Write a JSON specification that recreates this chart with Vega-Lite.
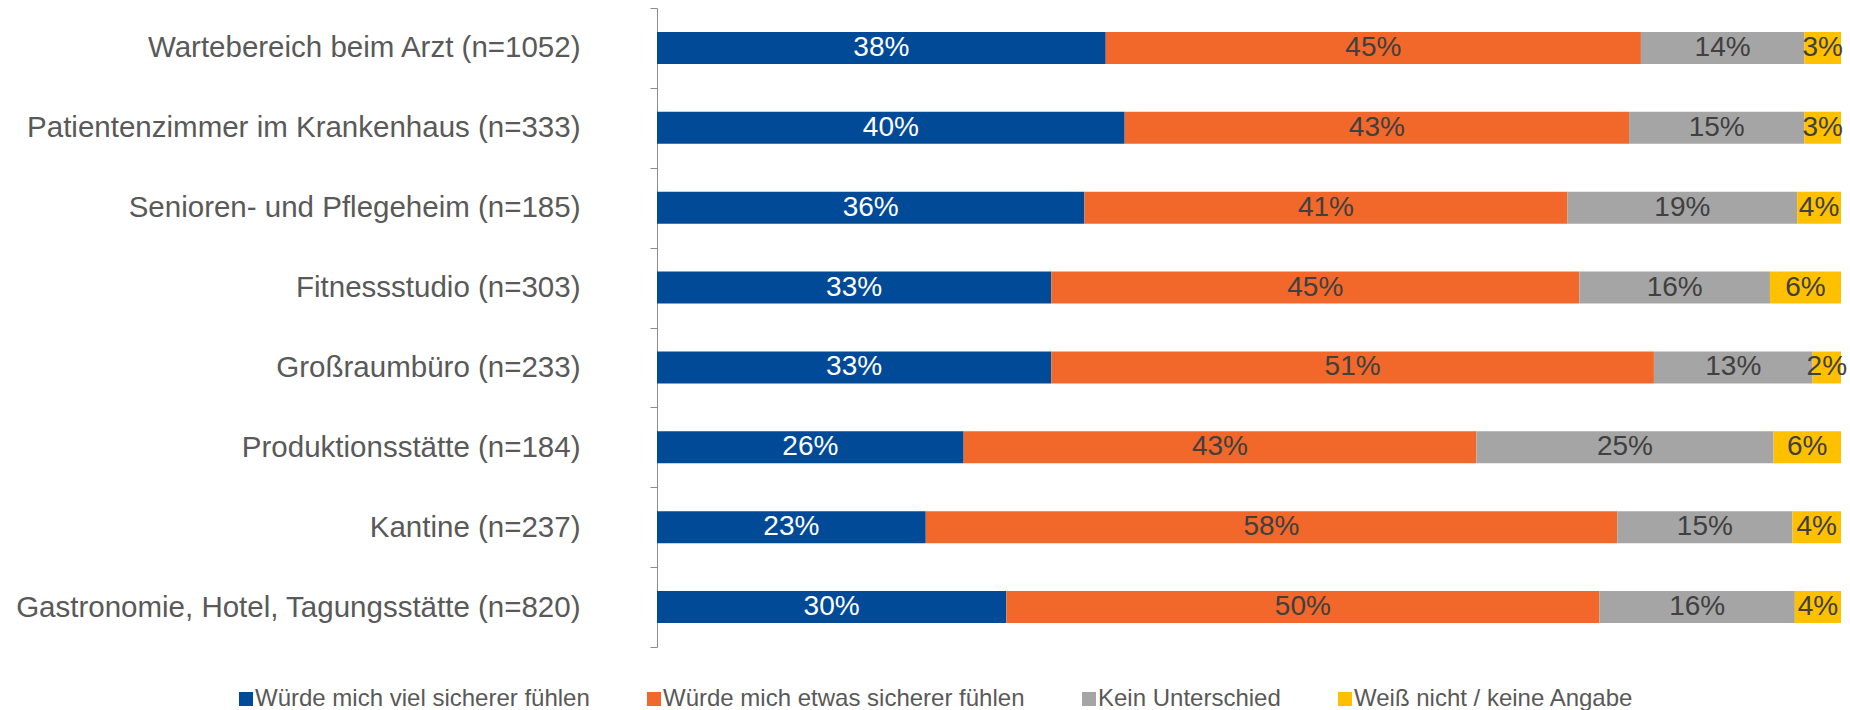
{
  "$schema": "https://vega.github.io/schema/vega-lite/v6.json",
  "autosize": {"type": "none"},
  "width": 1184,
  "height": 639,
  "padding": {"left": 657, "top": 8, "right": 9, "bottom": 63},
  "background": "white",
  "config": {
    "view": {"stroke": null},
    "font": "Liberation Sans",
    "legend": {
      "orient": "none",
      "legendX": -423,
      "legendY": 679,
      "direction": "horizontal",
      "symbolType": "square",
      "symbolSize": 196,
      "symbolStrokeWidth": 0,
      "labelFontSize": 24,
      "labelColor": "#595959",
      "labelFont": "Liberation Sans",
      "labelOffset": -3,
      "columnPadding": 52,
      "labelLimit": 600,
      "title": null
    }
  },
  "data": {
    "values": [
      {"cat": "Wartebereich beim Arzt (n=1052)", "resp": "Würde mich viel sicherer fühlen", "k": 1, "v": 37.9, "label": "38%"},
      {"cat": "Wartebereich beim Arzt (n=1052)", "resp": "Würde mich etwas sicherer fühlen", "k": 2, "v": 45.2, "label": "45%"},
      {"cat": "Wartebereich beim Arzt (n=1052)", "resp": "Kein Unterschied", "k": 3, "v": 13.8, "label": "14%"},
      {"cat": "Wartebereich beim Arzt (n=1052)", "resp": "Weiß nicht / keine Angabe", "k": 4, "v": 3.1, "label": "3%"},
      {"cat": "Patientenzimmer im Krankenhaus (n=333)", "resp": "Würde mich viel sicherer fühlen", "k": 1, "v": 39.5, "label": "40%"},
      {"cat": "Patientenzimmer im Krankenhaus (n=333)", "resp": "Würde mich etwas sicherer fühlen", "k": 2, "v": 42.6, "label": "43%"},
      {"cat": "Patientenzimmer im Krankenhaus (n=333)", "resp": "Kein Unterschied", "k": 3, "v": 14.8, "label": "15%"},
      {"cat": "Patientenzimmer im Krankenhaus (n=333)", "resp": "Weiß nicht / keine Angabe", "k": 4, "v": 3.1, "label": "3%"},
      {"cat": "Senioren- und Pflegeheim (n=185)", "resp": "Würde mich viel sicherer fühlen", "k": 1, "v": 36.1, "label": "36%"},
      {"cat": "Senioren- und Pflegeheim (n=185)", "resp": "Würde mich etwas sicherer fühlen", "k": 2, "v": 40.8, "label": "41%"},
      {"cat": "Senioren- und Pflegeheim (n=185)", "resp": "Kein Unterschied", "k": 3, "v": 19.4, "label": "19%"},
      {"cat": "Senioren- und Pflegeheim (n=185)", "resp": "Weiß nicht / keine Angabe", "k": 4, "v": 3.7, "label": "4%"},
      {"cat": "Fitnessstudio (n=303)", "resp": "Würde mich viel sicherer fühlen", "k": 1, "v": 33.3, "label": "33%"},
      {"cat": "Fitnessstudio (n=303)", "resp": "Würde mich etwas sicherer fühlen", "k": 2, "v": 44.6, "label": "45%"},
      {"cat": "Fitnessstudio (n=303)", "resp": "Kein Unterschied", "k": 3, "v": 16.1, "label": "16%"},
      {"cat": "Fitnessstudio (n=303)", "resp": "Weiß nicht / keine Angabe", "k": 4, "v": 6.0, "label": "6%"},
      {"cat": "Großraumbüro (n=233)", "resp": "Würde mich viel sicherer fühlen", "k": 1, "v": 33.3, "label": "33%"},
      {"cat": "Großraumbüro (n=233)", "resp": "Würde mich etwas sicherer fühlen", "k": 2, "v": 50.9, "label": "51%"},
      {"cat": "Großraumbüro (n=233)", "resp": "Kein Unterschied", "k": 3, "v": 13.4, "label": "13%"},
      {"cat": "Großraumbüro (n=233)", "resp": "Weiß nicht / keine Angabe", "k": 4, "v": 2.4, "label": "2%"},
      {"cat": "Produktionsstätte (n=184)", "resp": "Würde mich viel sicherer fühlen", "k": 1, "v": 25.9, "label": "26%"},
      {"cat": "Produktionsstätte (n=184)", "resp": "Würde mich etwas sicherer fühlen", "k": 2, "v": 43.3, "label": "43%"},
      {"cat": "Produktionsstätte (n=184)", "resp": "Kein Unterschied", "k": 3, "v": 25.1, "label": "25%"},
      {"cat": "Produktionsstätte (n=184)", "resp": "Weiß nicht / keine Angabe", "k": 4, "v": 5.7, "label": "6%"},
      {"cat": "Kantine (n=237)", "resp": "Würde mich viel sicherer fühlen", "k": 1, "v": 22.7, "label": "23%"},
      {"cat": "Kantine (n=237)", "resp": "Würde mich etwas sicherer fühlen", "k": 2, "v": 58.4, "label": "58%"},
      {"cat": "Kantine (n=237)", "resp": "Kein Unterschied", "k": 3, "v": 14.8, "label": "15%"},
      {"cat": "Kantine (n=237)", "resp": "Weiß nicht / keine Angabe", "k": 4, "v": 4.1, "label": "4%"},
      {"cat": "Gastronomie, Hotel, Tagungsstätte (n=820)", "resp": "Würde mich viel sicherer fühlen", "k": 1, "v": 29.5, "label": "30%"},
      {"cat": "Gastronomie, Hotel, Tagungsstätte (n=820)", "resp": "Würde mich etwas sicherer fühlen", "k": 2, "v": 50.1, "label": "50%"},
      {"cat": "Gastronomie, Hotel, Tagungsstätte (n=820)", "resp": "Kein Unterschied", "k": 3, "v": 16.5, "label": "16%"},
      {"cat": "Gastronomie, Hotel, Tagungsstätte (n=820)", "resp": "Weiß nicht / keine Angabe", "k": 4, "v": 3.9, "label": "4%"}
    ]
  },
  "transform": [
    {"stack": "v", "groupby": ["cat"], "sort": [{"field": "k", "order": "ascending"}], "offset": "normalize", "as": ["x0", "x1"]},
    {"calculate": "(datum.x0 + datum.x1) / 2", "as": "xm"}
  ],
  "encoding": {
    "y": {
      "field": "cat",
      "type": "nominal",
      "sort": null,
      "scale": {"paddingInner": 0, "paddingOuter": 0},
      "axis": {
        "title": null,
        "tickBand": "extent",
        "domainColor": "#8C8C8C",
        "tickColor": "#8C8C8C",
        "tickSize": 7,
        "labelFontSize": 29.5,
        "labelColor": "#595959",
        "labelFont": "Liberation Sans",
        "labelPadding": 70,
        "labelLimit": 700
      }
    }
  },
  "layer": [
    {
      "mark": {"type": "bar", "height": {"band": 0.4}},
      "encoding": {
        "x": {"field": "x0", "type": "quantitative", "scale": {"domain": [0, 1], "nice": false, "zero": true}, "axis": null},
        "x2": {"field": "x1"},
        "color": {
          "field": "resp",
          "type": "nominal",
          "sort": null,
          "scale": {
            "domain": ["Würde mich viel sicherer fühlen", "Würde mich etwas sicherer fühlen", "Kein Unterschied", "Weiß nicht / keine Angabe"],
            "range": ["#004A98", "#F2672A", "#A5A5A5", "#FFC000"]
          }
        }
      }
    },
    {
      "mark": {"type": "text", "fontSize": 28, "font": "Liberation Sans", "baseline": "middle", "align": "center"},
      "encoding": {
        "x": {"field": "xm", "type": "quantitative", "scale": {"domain": [0, 1], "nice": false}},
        "text": {"field": "label"},
        "color": {"condition": {"test": "datum.k === 1", "value": "#FFFFFF"}, "value": "#404040"}
      }
    }
  ]
}
